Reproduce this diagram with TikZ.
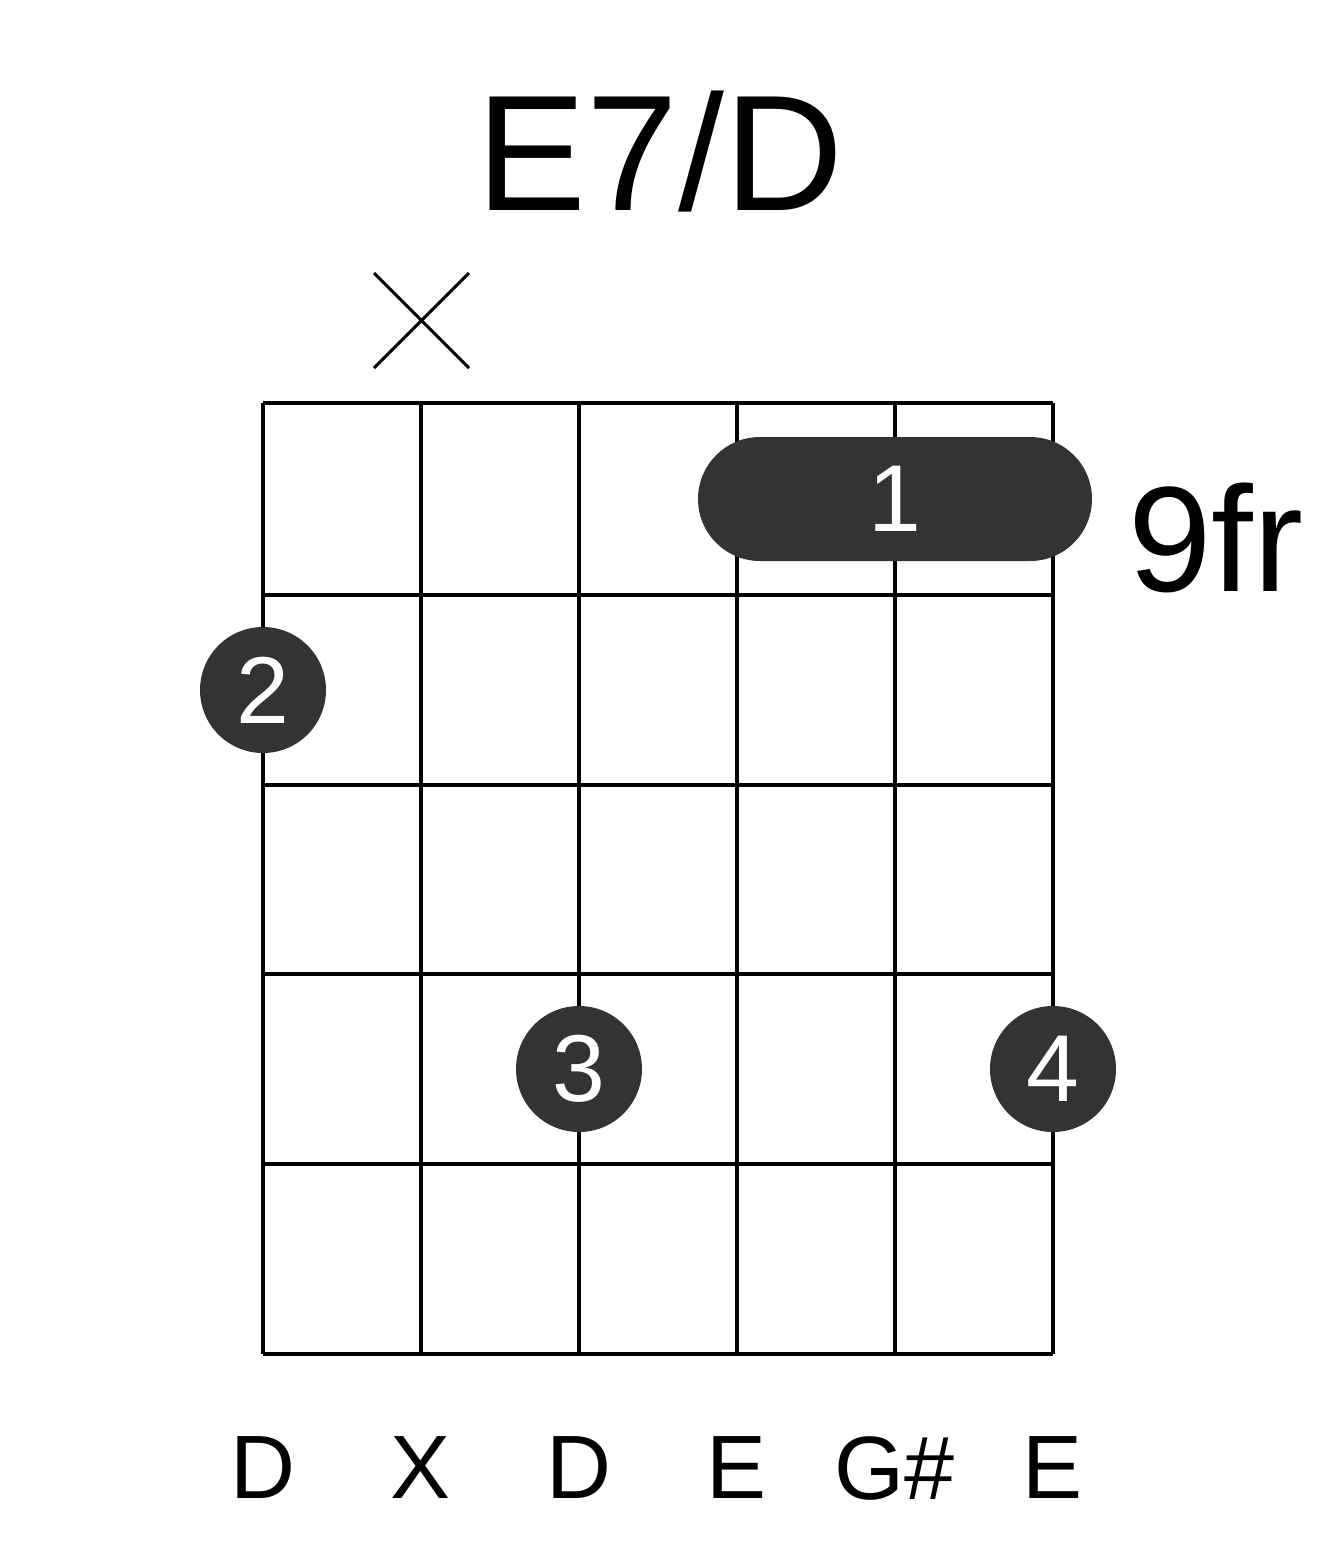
\documentclass[tikz,border=0pt]{standalone}
\usepackage{fontspec}
\setmainfont{Liberation Sans}
\definecolor{dotc}{HTML}{333333}
\begin{document}
\begin{tikzpicture}[x=1pt,y=-1pt,
  grid/.style={line width=4pt},
  fdot/.style={circle,fill=dotc,minimum size=126pt,inner sep=0pt,text=white,font=\fontsize{95}{95}\selectfont},
  lbl/.style={font=\fontsize{90}{90}\selectfont}]
\useasboundingbox (0,0) rectangle (1317,1551);
\node[font=\fontsize{165}{165}\selectfont] (title) at (660,152) {E7/D};
\foreach \x in {263,421,579,737,895,1053} \draw[grid] (\x,403) -- (\x,1354);
\foreach \y in {403,595,785,974,1164,1354} \draw[grid] (263,\y) -- (1053,\y);
\draw[line width=3pt] (374,273) -- (469,368) (469,273) -- (374,368);
\fill[dotc,rounded corners=62pt] (698,437) rectangle (1092,561);
\node[text=white,font=\fontsize{95}{95}\selectfont] (b1) at (895,499) {1};
\node[font=\fontsize{150}{150}\selectfont,anchor=west] (fr) at (1125,538) {9fr};
\node[fdot] (d2) at (263,690) {2};
\node[fdot] (d3) at (579,1069) {3};
\node[fdot] (d4) at (1053,1069) {4};
\foreach \x/\t in {263/D,421/X,579/D,737/E,895/G\#,1053/E}
  \node[lbl] at (\x,1468) {\t};
\end{tikzpicture}
\end{document}
